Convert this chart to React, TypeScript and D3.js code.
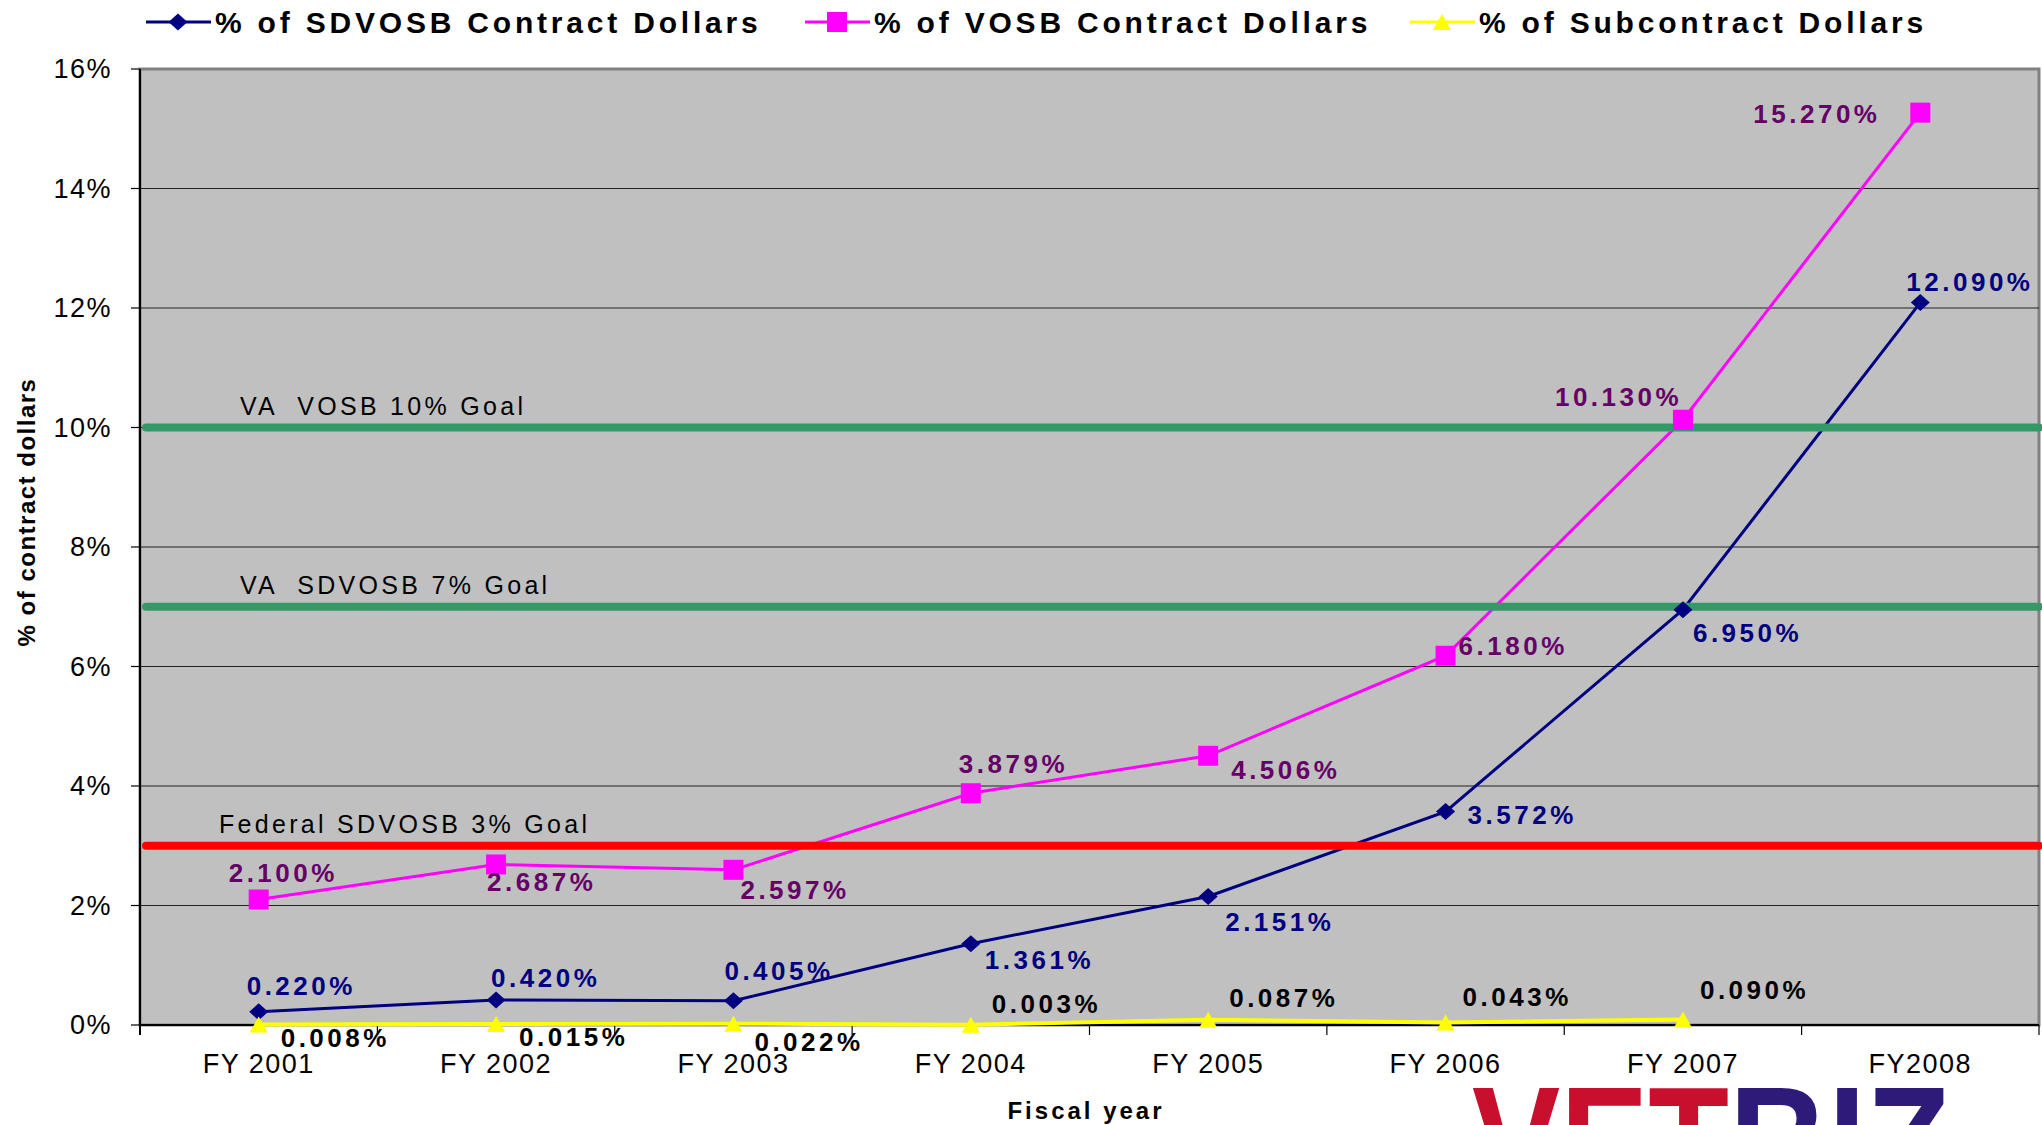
import React from 'react';
import * as d3 from 'd3';

// data
const years = ['FY 2001', 'FY 2002', 'FY 2003', 'FY 2004', 'FY 2005', 'FY 2006', 'FY 2007', 'FY2008'];
const sdvosb = [0.22, 0.42, 0.405, 1.361, 2.151, 3.572, 6.95, 12.09];
const vosb = [2.1, 2.687, 2.597, 3.879, 4.506, 6.18, 10.13, 15.27];
const subcontract = [0.008, 0.015, 0.022, 0.003, 0.087, 0.043, 0.09];
const yTicks = [0, 2, 4, 6, 8, 10, 12, 14, 16];
const goalValues = [10, 7, 3];
const goalLabels = ['VA  VOSB 10% Goal', 'VA  SDVOSB 7% Goal', 'Federal SDVOSB 3% Goal'];
const seriesNames = ['% of SDVOSB Contract Dollars', '% of VOSB Contract Dollars', '% of Subcontract Dollars'];

// layout
const W = 2042;
const H = 1125;
const plot = { left: 140, right: 2039, top: 69, bottom: 1025 };
const FONT = '"Liberation Sans", Arial, sans-serif';
const goalColors = ['#339966', '#339966', '#FF0000'];
const goalLabelX = [240, 240, 219];
const lineColors = ['#000080', '#FF00FF', '#FFFF00'];
const labelColors = ['#000080', '#660066', '#000000'];
const legendX = [146, 805, 1410];

// label offsets (px from point) for each series
const sdOffsets = [[-12, -26], [-5, -22], [-9, -30], [14, 16], [17, 26], [22, 3], [10, 23], [-14, -21]];
const voOffsets = [[-30, -27], [-9, 18], [7, 20], [-12, -29], [23, 14], [13, -10], [-128, -23], [-167, 1]];
const subOffsets = [[22, 13], [23, 13], [21, 18], [21, -21], [21, -22], [17, -25], [17, -30]];

const x = d3.scaleBand<string>().domain(years).range([plot.left, plot.right]).paddingInner(0);
const y = d3.scaleLinear().domain([0, 16]).range([plot.bottom, plot.top]);
const cx = (i: number) => (x(years[i]) as number) + x.bandwidth() / 2;

const line = d3
  .line<number>()
  .x((d, i) => cx(i))
  .y(d => y(d));

function marker(kind: number, px: number, py: number, color: string, key: string) {
  if (kind === 0) {
    const p = d3.path();
    p.moveTo(px - 9.5, py);
    p.lineTo(px, py - 8.5);
    p.lineTo(px + 9.5, py);
    p.lineTo(px, py + 8.5);
    p.closePath();
    return <path key={key} d={p.toString()} fill={color} />;
  }
  if (kind === 1) {
    return <rect key={key} x={px - 10} y={py - 10} width={20} height={20} fill={color} />;
  }
  const p = d3.path();
  p.moveTo(px - 9, py + 8);
  p.lineTo(px, py - 8);
  p.lineTo(px + 9, py + 8);
  p.closePath();
  return <path key={key} d={p.toString()} fill={color} />;
}

export default function App() {
  const series = [sdvosb, vosb, subcontract];
  const offsets = [sdOffsets, voOffsets, subOffsets];

  return (
    <svg
      width={W}
      height={H}
      style={{ position: 'absolute', left: 0, top: 0, background: '#fff', fontFamily: FONT }}
    >
      {/* legend */}
      {seriesNames.map((name, s) => (
        <g key={name}>
          <line x1={legendX[s]} x2={legendX[s] + 65} y1={22} y2={22} stroke={lineColors[s]} strokeWidth={3} />
          {marker(s, legendX[s] + 32, 22, lineColors[s], 'lm' + s)}
          <text
            x={legendX[s] + 69}
            y={22}
            dominantBaseline="central"
            fontSize={30}
            fontWeight="bold"
            letterSpacing={3.8}
            fill="#000"
          >
            {name}
          </text>
        </g>
      ))}

      {/* plot area */}
      <rect
        x={plot.left}
        y={plot.top}
        width={plot.right - plot.left}
        height={plot.bottom - plot.top}
        fill="#C0C0C0"
        stroke="#808080"
        strokeWidth={3}
      />

      {yTicks.map(t => (
        <g key={t}>
          {t > 0 && t < 16 && (
            <line x1={plot.left} x2={plot.right} y1={y(t)} y2={y(t)} stroke="#222" strokeWidth={1.2} />
          )}
          <line x1={plot.left - 9} x2={plot.left} y1={y(t)} y2={y(t)} stroke="#000" strokeWidth={1.2} />
          <text
            x={112}
            y={y(t)}
            textAnchor="end"
            dominantBaseline="central"
            fontSize={27}
            letterSpacing={1.5}
            fill="#000"
          >
            {t + '%'}
          </text>
        </g>
      ))}

      {/* axes */}
      <line x1={plot.left} x2={plot.left} y1={plot.top} y2={plot.bottom + 10} stroke="#000" strokeWidth={2} />
      <line x1={plot.left} x2={plot.right} y1={plot.bottom} y2={plot.bottom} stroke="#000" strokeWidth={2} />
      {years.map((yr, i) => (
        <g key={yr}>
          <line
            x1={(x(yr) as number) + x.bandwidth()}
            x2={(x(yr) as number) + x.bandwidth()}
            y1={plot.bottom}
            y2={plot.bottom + 10}
            stroke="#000"
            strokeWidth={1.2}
          />
          <text x={cx(i)} y={1064} textAnchor="middle" dominantBaseline="central" fontSize={27} letterSpacing={1.5}>
            {yr}
          </text>
        </g>
      ))}

      {/* series lines */}
      {series.map((vals, s) => (
        <path
          key={'l' + s}
          d={line(vals) as string}
          fill="none"
          stroke={lineColors[s]}
          strokeWidth={s === 2 ? 4 : 3}
        />
      ))}

      {/* goal lines */}
      {goalValues.map((g, i) => (
        <g key={'g' + i}>
          <line
            x1={146}
            x2={plot.right}
            y1={y(g)}
            y2={y(g)}
            stroke={goalColors[i]}
            strokeWidth={8}
            strokeLinecap="round"
          />
          <text x={goalLabelX[i]} y={y(g) - 13} fontSize={25} letterSpacing={3.3} style={{ whiteSpace: 'pre' }}>
            {goalLabels[i]}
          </text>
        </g>
      ))}

      {/* markers and labels */}
      {series.map((vals, s) =>
        vals.map((v, i) => marker(s, cx(i), y(v), lineColors[s], 'm' + s + '-' + i))
      )}
      {series.map((vals, s) =>
        vals.map((v, i) => (
          <text
            key={'t' + s + '-' + i}
            x={cx(i) + offsets[s][i][0]}
            y={y(v) + offsets[s][i][1]}
            dominantBaseline="central"
            fontSize={26}
            fontWeight="bold"
            letterSpacing={3.5}
            fill={labelColors[s]}
          >
            {v.toFixed(3) + '%'}
          </text>
        ))
      )}

      {/* axis titles */}
      <text
        transform="translate(26,512) rotate(-90)"
        textAnchor="middle"
        dominantBaseline="central"
        fontSize={24}
        fontWeight="bold"
        letterSpacing={1.5}
      >
        % of contract dollars
      </text>
      <text x={1086} y={1110} textAnchor="middle" dominantBaseline="central" fontSize={24} fontWeight="bold" letterSpacing={3}>
        Fiscal year
      </text>

      {/* VetBiz logo, cut off by the page edge */}
      <text x={1472} y={1198} fontSize={160} fontWeight="bold" fill="#C8102E" textLength={257} lengthAdjust="spacingAndGlyphs">
        VET
      </text>
      <text x={1729} y={1198} fontSize={160} fontWeight="bold" fill="#2E1A78" textLength={221} lengthAdjust="spacingAndGlyphs">
        BIZ
      </text>
    </svg>
  );
}
